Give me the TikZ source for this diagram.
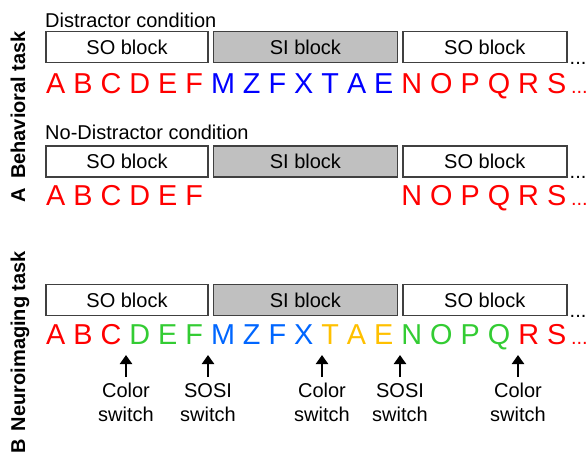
\documentclass[tikz,border=0pt]{standalone}
\usepackage{fontspec}
\setmainfont{Liberation Sans}
\usetikzlibrary{positioning,arrows.meta}

\definecolor{boxline}{RGB}{64,64,64}
\definecolor{sigray}{RGB}{192,192,192}
\definecolor{lred}{RGB}{255,0,0}
\definecolor{lblue}{RGB}{0,0,255}
\definecolor{nblue}{RGB}{0,102,255}
\definecolor{ngreen}{RGB}{51,204,51}
\definecolor{nyellow}{RGB}{255,192,0}

\newcommand{\txtsize}{\fontsize{20}{24}\selectfont}
\newcommand{\seqsize}{\fontsize{28.8}{30}\selectfont}
\newcommand{\seqdots}{{\txtsize...}}

\tikzset{
  blk/.style={draw=boxline, line width=1.4pt, minimum height=31pt, inner sep=0pt, font=\txtsize},
  soblk/.style={blk, fill=white},
  siblk/.style={blk, fill=sigray},
  seq/.style={anchor=base west, inner sep=0pt, font=\seqsize},
  cond/.style={anchor=base west, inner sep=0pt, font=\txtsize},
  swlabel/.style={align=center, anchor=north, inner sep=0pt, font=\txtsize},
  tasklabel/.style={rotate=90, anchor=base, inner sep=0pt, font=\txtsize\bfseries},
  uparrow/.style={line width=2.8pt, -{Triangle[width=12pt,length=9pt]}}
}

\begin{document}
\begin{tikzpicture}[x=1pt, y=-1pt]
\useasboundingbox (0,0) rectangle (588,456);

% A: behavioral task
\node[tasklabel] (taskA) at (25,117) {A\hspace{4pt} Behavioral task};

% distractor condition
\node[cond] (distr) at (45,27) {Distractor condition};
\node[soblk, minimum width=162pt] (so11) at (127,47) {SO block};
\node[siblk, minimum width=184pt, right=4pt of so11] (si1) {SI block};
\node[soblk, minimum width=164pt, right=4pt of si1] (so12) {SO block};
\node[cond, anchor=base west] (dots1) at ([xshift=2pt,yshift=-1pt]so12.south east) {...};
\node[seq] (seq1) at (46,93) {\textcolor{lred}{A B C D E F }\textcolor{lblue}{M Z F X T A E }\textcolor{lred}{N O P Q R S\,\seqdots}};

% no-distractor condition
\node[cond] (nodistr) at (45,139) {No-Distractor condition};
\node[soblk, minimum width=162pt] (so21) at (127,161.5) {SO block};
\node[siblk, minimum width=184pt, right=4pt of so21] (si2) {SI block};
\node[soblk, minimum width=164pt, right=4pt of si2] (so22) {SO block};
\node[cond, anchor=base west] (dots2) at ([xshift=2pt,yshift=-1pt]so22.south east) {...};
\node[seq] (seq2) at (46,205) {\textcolor{lred}{A B C D E F }\phantom{M Z F X T A E }\textcolor{lred}{N O P Q R S\,\seqdots}};

% B: neuroimaging task
\node[tasklabel] (taskB) at (25,352) {B\hspace{2pt} Neuroimaging task};

\node[soblk, minimum width=162pt] (so31) at (127,300) {SO block};
\node[siblk, minimum width=184pt, right=4pt of so31] (si3) {SI block};
\node[soblk, minimum width=164pt, right=4pt of si3] (so32) {SO block};
\node[cond, anchor=base west] (dots3) at ([xshift=2pt,yshift=-1pt]so32.south east) {...};
\node[seq] (seq3) at (46,344) {\textcolor{lred}{A B C }\textcolor{ngreen}{D E F }\textcolor{nblue}{M Z F X }\textcolor{nyellow}{T A E }\textcolor{ngreen}{N O P Q }\textcolor{lred}{R S\,\seqdots}};

% switches
\node[swlabel] (col1) at (126,383) {Color\\switch};
\node[swlabel] (sosi1) at (208,383) {SOSI\\switch};
\node[swlabel] (col2) at (322,383) {Color\\switch};
\node[swlabel] (sosi2) at (400,383) {SOSI\\switch};
\node[swlabel] (col3) at (518,383) {Color\\switch};
\foreach \sw in {col1,sosi1,col2,sosi2,col3}
  \draw[uparrow] ([yshift=6pt]\sw.north) -- ++(0,-22);
\end{tikzpicture}
\end{document}
